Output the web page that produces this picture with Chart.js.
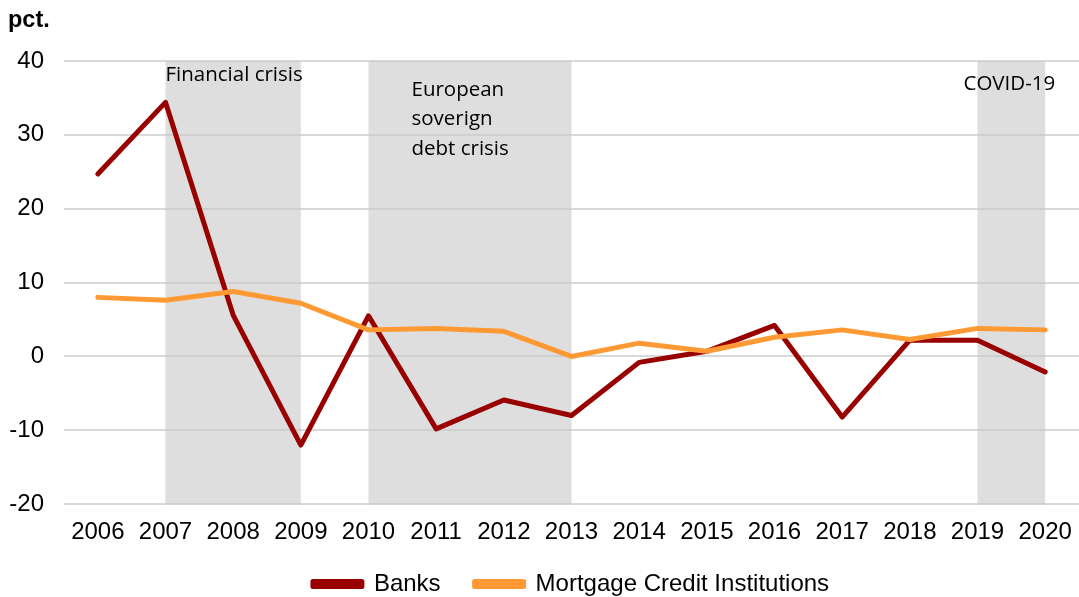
<!DOCTYPE html>
<html>
<head>
<meta charset="utf-8">
<script src="https://cdn.jsdelivr.net/npm/chart.js@4"></script>
<style>
  body { margin: 0; background: #fff; }
  #wrap { width: 1079px; height: 597px; position: relative; }
</style>
</head>
<body>
<div id="wrap"><canvas id="chart"></canvas></div>
<script>
// Chart data
const years = ['2006', '2007', '2008', '2009', '2010', '2011', '2012', '2013', '2014', '2015', '2016', '2017', '2018', '2019', '2020'];
const banks = [24.7, 34.4, 5.6, -12.0, 5.5, -9.8, -5.9, -8.0, -0.8, 0.7, 4.2, -8.2, 2.2, 2.2, -2.1];
const mortgage = [8.0, 7.6, 8.8, 7.2, 3.6, 3.8, 3.4, 0.0, 1.8, 0.7, 2.6, 3.6, 2.3, 3.8, 3.6];

// Crisis periods (start year, end year, label lines)
const crises = [
  { from: '2007', to: '2009', text: ['Financial crisis'] },
  { from: '2010', to: '2013', text: ['European', 'soverign', 'debt crisis'] },
  { from: '2019', to: '2020', text: ['COVID-19'] }
];

const yMin = -20;
const yMax = 40;
const yStep = 10;

const tickFont = { family: '"Liberation Sans", Arial', size: 24 };

// Shaded crisis bands + annotation labels
const crisisPlugin = {
  id: 'crisis',
  afterLayout(chart) {
    // nudge legend to sit like the original
    const l = chart.legend;
    l.top -= 15; l.bottom -= 15;
    l.left += 25; l.right += 25;
  },
  beforeDatasetsDraw(chart) {
    const ctx = chart.ctx;
    const x = chart.scales.x;
    const area = chart.chartArea;
    ctx.save();
    ctx.fillStyle = 'rgba(200,200,200,0.6)';
    crises.forEach(c => {
      const x0 = x.getPixelForValue(years.indexOf(c.from));
      const x1 = x.getPixelForValue(years.indexOf(c.to));
      ctx.fillRect(x0, area.top, x1 - x0, area.bottom - area.top);
    });
    ctx.fillStyle = '#000';
    ctx.font = '20.5px "Open Sans"';
    ctx.textBaseline = 'middle';
    crises.forEach((c, i) => {
      const x0 = x.getPixelForValue(years.indexOf(c.from));
      const x1 = x.getPixelForValue(years.indexOf(c.to));
      let tx, ty;
      if (i === 0) { tx = x0; ty = area.top + 14; ctx.textAlign = 'left'; }
      else if (i === 1) { tx = x0 + 43; ty = area.top + 29; ctx.textAlign = 'left'; }
      else { tx = (x0 + x1) / 2 - 2; ty = area.top + 23; ctx.textAlign = 'center'; }
      c.text.forEach((line, j) => ctx.fillText(line, tx, ty + j * 29.5));
    });
    ctx.restore();
  },
  afterDraw(chart) {
    const ctx = chart.ctx;
    ctx.save();
    ctx.fillStyle = '#000';
    ctx.font = 'bold 23.5px "Liberation Sans", Arial';
    ctx.textBaseline = 'middle';
    ctx.textAlign = 'left';
    ctx.fillText('pct.', 8, 21);
    ctx.restore();
  }
};

new Chart(document.getElementById('chart').getContext('2d'), {
  type: 'line',
  data: {
    labels: years,
    datasets: [
      {
        label: 'Banks',
        data: banks,
        borderColor: '#990000',
        backgroundColor: '#990000',
        borderWidth: 5,
        pointRadius: 0,
        tension: 0,
        borderJoinStyle: 'round',
        borderCapStyle: 'round',
        order: 2
      },
      {
        label: 'Mortgage Credit Institutions',
        data: mortgage,
        borderColor: '#ff9933',
        backgroundColor: '#ff9933',
        borderWidth: 5,
        pointRadius: 0,
        tension: 0,
        borderJoinStyle: 'round',
        borderCapStyle: 'round',
        order: 1
      }
    ]
  },
  options: {
    responsive: true,
    maintainAspectRatio: false,
    animation: false,
    layout: { padding: { top: 61, left: 9, right: -4, bottom: -24 } },
    plugins: {
      legend: {
        position: 'bottom',
        labels: {
          color: '#000',
          font: tickFont,
          boxWidth: 49,
          boxHeight: 5,
          padding: 34,
          sort: (a, b) => a.datasetIndex - b.datasetIndex
        }
      },
      tooltip: { enabled: false }
    },
    scales: {
      x: {
        offset: true,
        afterFit(scale) { scale.paddingLeft = 0; scale.paddingRight = 0; },
        grid: { display: false },
        border: { display: false },
        ticks: {
          color: '#000',
          font: tickFont,
          maxRotation: 0,
          autoSkip: false,
          padding: 6
        }
      },
      y: {
        min: yMin,
        max: yMax,
        afterFit(scale) { scale.width = 55; },
        grid: { color: '#d9d9d9', lineWidth: 2, drawTicks: false },
        border: { display: false },
        ticks: {
          stepSize: yStep,
          color: '#000',
          font: tickFont,
          padding: 20
        }
      }
    }
  },
  plugins: [crisisPlugin]
});
</script>
</body>
</html>
